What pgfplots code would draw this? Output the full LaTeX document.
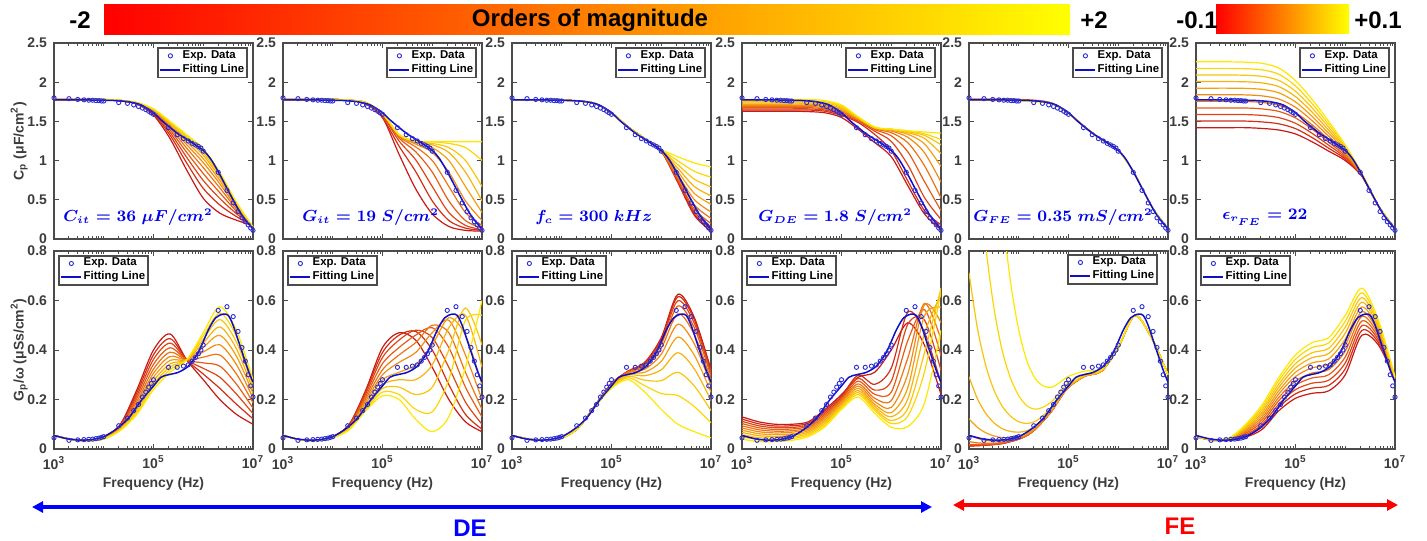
\documentclass[border=0pt]{standalone}
\usepackage{fontspec}
\setmainfont{Liberation Sans}
\usepackage{pgfplots}
\pgfplotsset{compat=1.18}
\usepackage{pgfplotstable}
\usetikzlibrary{arrows.meta}

\definecolor{k0}{RGB}{200,25,20}
\definecolor{k1}{RGB}{212,45,20}
\definecolor{k2}{RGB}{222,68,20}
\definecolor{k3}{RGB}{230,92,20}
\definecolor{k4}{RGB}{236,115,20}
\definecolor{k5}{RGB}{240,138,20}
\definecolor{k6}{RGB}{244,158,16}
\definecolor{k7}{RGB}{247,178,12}
\definecolor{k8}{RGB}{250,196,8}
\definecolor{k9}{RGB}{252,214,4}
\definecolor{k10}{RGB}{255,232,0}
\definecolor{axg}{RGB}{75,75,75}
\definecolor{lblg}{RGB}{60,60,60}
\definecolor{expb}{RGB}{45,45,215}
\definecolor{fitb}{RGB}{15,15,200}
\definecolor{txtb}{RGB}{0,0,235}

\pgfplotstableread{
e v
3 1.80
3.301 1.79
3.477 1.78
3.602 1.775
3.699 1.77
3.778 1.77
3.845 1.765
3.903 1.765
3.954 1.76
4 1.76
4.301 1.74
4.477 1.73
4.602 1.71
4.699 1.69
4.778 1.67
4.845 1.65
4.903 1.63
4.954 1.61
5 1.59
5.301 1.42
5.477 1.33
5.602 1.28
5.699 1.25
5.778 1.22
5.845 1.20
5.903 1.18
5.954 1.16
6 1.12
6.301 0.85
6.477 0.62
6.602 0.46
6.699 0.35
6.778 0.27
6.845 0.22
6.903 0.18
6.954 0.14
7 0.11
}\expC
\pgfplotstableread{
e v
3 0.045
3.301 0.035
3.477 0.037
3.602 0.038
3.699 0.039
3.778 0.04
3.845 0.042
3.903 0.044
3.954 0.047
4 0.05
4.301 0.094
4.477 0.125
4.602 0.155
4.699 0.18
4.778 0.21
4.845 0.23
4.903 0.25
4.954 0.265
5 0.28
5.301 0.33
5.477 0.33
5.602 0.335
5.699 0.34
5.778 0.355
5.845 0.37
5.903 0.385
5.954 0.40
6 0.42
6.301 0.56
6.477 0.575
6.602 0.535
6.699 0.475
6.778 0.41
6.845 0.355
6.903 0.30
6.954 0.255
7 0.21
}\expG
\pgfplotstableread{
e v
3 1.775
3.5 1.775
4 1.77
4.25 1.765
4.5 1.75
4.75 1.71
5 1.61
5.15 1.52
5.3 1.44
5.5 1.34
5.75 1.24
6 1.13
6.15 1.02
6.3 0.86
6.45 0.68
6.6 0.50
6.75 0.33
6.9 0.20
7 0.13
}\fitC
\pgfplotstableread{
e v
3 0.055
3.25 0.042
3.5 0.036
3.75 0.038
4 0.05
4.25 0.08
4.5 0.125
4.75 0.195
5 0.255
5.15 0.29
5.3 0.30
5.5 0.31
5.7 0.335
5.9 0.39
6.1 0.48
6.25 0.53
6.4 0.545
6.5 0.54
6.6 0.50
6.75 0.41
6.9 0.32
7 0.27
}\fitG

\pgfplotstableread{
e a0 a1 a2 a3 a4 a5 a6 a7 a8 a9 a10
3 1.78 1.78 1.78 1.78 1.78 1.78 1.78 1.78 1.78 1.78 1.78
3.333 1.78 1.78 1.78 1.78 1.78 1.78 1.78 1.78 1.78 1.78 1.78
3.667 1.78 1.78 1.78 1.78 1.78 1.78 1.78 1.78 1.78 1.78 1.78
4 1.775 1.776 1.777 1.778 1.778 1.779 1.779 1.779 1.78 1.78 1.78
4.333 1.76 1.762 1.764 1.765 1.766 1.767 1.768 1.769 1.769 1.77 1.77
4.667 1.72 1.724 1.727 1.73 1.732 1.734 1.736 1.737 1.738 1.739 1.74
5 1.58 1.596 1.609 1.62 1.63 1.638 1.644 1.65 1.654 1.657 1.66
5.333 1.28 1.324 1.359 1.39 1.416 1.438 1.456 1.471 1.482 1.491 1.50
5.667 0.88 0.97 1.042 1.105 1.159 1.204 1.24 1.272 1.294 1.312 1.33
6 0.52 0.646 0.747 0.835 0.911 0.974 1.024 1.068 1.10 1.125 1.15
6.333 0.33 0.434 0.517 0.59 0.652 0.704 0.746 0.782 0.808 0.829 0.85
6.667 0.24 0.286 0.323 0.355 0.383 0.406 0.424 0.44 0.452 0.461 0.47
7 0.17 0.166 0.163 0.16 0.158 0.156 0.154 0.153 0.152 0.151 0.15
}\PoneC
\pgfplotstableread{
e a0 a1 a2 a3 a4 a5 a6 a7 a8 a9 a10
3 .055 .055 .055 .055 .055 .055 .055 .055 .055 .055 .055
3.333 .04 .04 .04 .039 .039 .039 .039 .038 .038 .038 .038
3.667 .035 .035 .035 .034 .034 .034 .034 .033 .033 .033 .033
4 .05 .049 .048 .046 .045 .044 .043 .042 .041 .041 .04
4.333 .10 .097 .094 .091 .088 .085 .083 .081 .079 .077 .075
4.667 .24 .228 .216 .204 .192 .181 .171 .162 .154 .147 .14
5 .40 .381 .362 .342 .323 .306 .29 .275 .262 .251 .24
5.333 .465 .446 .428 .409 .391 .374 .358 .344 .332 .321 .31
5.667 .36 .36 .36 .36 .36 .36 .36 .36 .36 .36 .36
6 .28 .303 .326 .348 .371 .392 .411 .428 .443 .457 .47
6.333 .20 .245 .29 .335 .38 .421 .459 .493 .523 .549 .575
6.667 .14 .181 .222 .262 .303 .341 .375 .405 .432 .456 .48
7 .10 .122 .143 .165 .186 .206 .224 .24 .255 .267 .28
}\PoneG
\pgfplotstableread{
e a0 a1 a2 a3 a4 a5 a6 a7 a8 a9 a10
3 1.78 1.78 1.78 1.78 1.78 1.78 1.78 1.78 1.78 1.78 1.78
3.333 1.78 1.78 1.78 1.78 1.78 1.78 1.78 1.78 1.78 1.78 1.78
3.667 1.78 1.78 1.78 1.78 1.78 1.78 1.78 1.78 1.78 1.78 1.78
4 1.78 1.78 1.78 1.78 1.78 1.78 1.78 1.78 1.78 1.78 1.78
4.333 1.77 1.77 1.77 1.77 1.77 1.77 1.77 1.77 1.77 1.77 1.77
4.667 1.72 1.724 1.735 1.74 1.74 1.74 1.74 1.74 1.74 1.74 1.74
5 1.55 1.549 1.573 1.59 1.60 1.60 1.60 1.60 1.60 1.60 1.60
5.333 1.08 1.184 1.25 1.288 1.308 1.32 1.325 1.33 1.33 1.33 1.33
5.667 0.64 0.86 1.01 1.113 1.175 1.211 1.229 1.24 1.245 1.25 1.25
6 0.32 0.486 0.67 0.854 1.002 1.104 1.166 1.201 1.219 1.24 1.24
6.333 0.16 0.236 0.338 0.486 0.67 0.854 1.002 1.104 1.166 1.219 1.24
6.667 0.11 0.139 0.174 0.236 0.338 0.486 0.67 0.854 1.002 1.166 1.24
7 0.10 0.11 0.12 0.139 0.174 0.236 0.338 0.486 0.67 1.002 1.24
}\PtwoC
\pgfplotstableread{
e a0 a1 a2 a3 a4 a5 a6 a7 a8 a9 a10
3 .055 .055 .055 .055 .055 .055 .055 .055 .055 .055 .055
3.333 .038 .038 .038 .038 .038 .038 .038 .038 .038 .038 .038
3.667 .035 .035 .035 .034 .034 .034 .034 .034 .034 .034 .033
4 .05 .05 .05 .05 .05 .049 .048 .047 .046 .045 .045
4.333 .10 .10 .095 .093 .09 .088 .086 .084 .082 .08 .078
4.667 .24 .235 .225 .215 .205 .195 .185 .175 .165 .16 .155
5 .41 .39 .37 .345 .32 .30 .28 .26 .245 .23 .215
5.333 .47 .46 .44 .41 .38 .35 .31 .28 .25 .22 .20
5.667 .44 .475 .48 .46 .43 .39 .34 .28 .22 .16 .12
6 .33 .40 .45 .49 .50 .47 .42 .34 .25 .15 .07
6.333 .20 .26 .33 .41 .47 .52 .53 .49 .40 .28 .13
6.667 .11 .14 .19 .25 .31 .38 .46 .54 .57 .52 .33
7 .07 .08 .10 .13 .16 .20 .26 .33 .42 .54 .60
}\PtwoG
\pgfplotstableread{
e a0 a1 a2 a3 a4 a5 a6 a7 a8 a9 a10
3 1.775 1.775 1.775 1.775 1.775 1.775 1.775 1.775 1.775 1.775 1.775
3.333 1.775 1.775 1.775 1.775 1.775 1.775 1.775 1.775 1.775 1.775 1.775
3.667 1.775 1.775 1.775 1.775 1.775 1.775 1.775 1.775 1.775 1.775 1.775
4 1.77 1.77 1.77 1.77 1.77 1.77 1.77 1.77 1.77 1.77 1.77
4.333 1.76 1.76 1.76 1.76 1.76 1.76 1.76 1.76 1.76 1.76 1.76
4.667 1.73 1.73 1.73 1.73 1.73 1.73 1.73 1.73 1.73 1.73 1.73
5 1.61 1.61 1.61 1.61 1.61 1.61 1.61 1.61 1.61 1.61 1.61
5.333 1.43 1.43 1.43 1.43 1.43 1.43 1.43 1.43 1.43 1.43 1.43
5.667 1.28 1.28 1.28 1.28 1.28 1.28 1.28 1.28 1.28 1.28 1.28
6 1.12 1.121 1.121 1.122 1.124 1.126 1.128 1.131 1.134 1.137 1.14
6.333 0.72 0.73 0.743 0.76 0.786 0.819 0.859 0.902 0.948 0.997 1.05
6.667 0.30 0.32 0.347 0.38 0.434 0.501 0.581 0.669 0.762 0.863 0.97
7 0.10 0.125 0.157 0.198 0.264 0.346 0.444 0.551 0.666 0.789 0.92
}\PthreeC
\pgfplotstableread{
e a0 a1 a2 a3 a4 a5 a6 a7 a8 a9 a10
3 .055 .055 .055 .055 .055 .055 .055 .055 .055 .055 .055
3.333 .04 .04 .04 .04 .04 .04 .04 .04 .04 .04 .04
3.667 .035 .035 .035 .035 .035 .035 .035 .035 .035 .035 .035
4 .045 .045 .045 .045 .045 .045 .045 .045 .045 .045 .045
4.333 .085 .085 .085 .085 .085 .085 .085 .085 .085 .085 .085
4.667 .175 .175 .175 .175 .174 .174 .173 .173 .172 .171 .17
5 .265 .265 .264 .263 .262 .26 .258 .256 .253 .249 .245
5.333 .315 .314 .313 .312 .31 .307 .303 .299 .294 .288 .28
5.667 .35 .348 .344 .339 .332 .322 .31 .296 .278 .256 .23
6 .45 .444 .436 .424 .407 .383 .354 .32 .276 .224 .16
6.333 .625 .615 .599 .578 .546 .504 .452 .389 .31 .216 .10
6.667 .53 .521 .507 .489 .461 .424 .378 .323 .254 .171 .07
7 .32 .315 .306 .295 .279 .257 .229 .196 .155 .106 .045
}\PthreeG
\pgfplotstableread{
e a0 a1 a2 a3 a4 a5 a6 a7 a8 a9 a10
3 1.63 1.645 1.66 1.675 1.69 1.705 1.72 1.735 1.75 1.765 1.78
3.333 1.63 1.645 1.66 1.675 1.69 1.705 1.72 1.735 1.75 1.765 1.78
3.667 1.63 1.645 1.66 1.675 1.69 1.705 1.72 1.735 1.75 1.765 1.78
4 1.63 1.645 1.66 1.675 1.69 1.705 1.72 1.735 1.75 1.765 1.78
4.333 1.625 1.645 1.66 1.675 1.69 1.705 1.72 1.735 1.75 1.765 1.78
4.667 1.61 1.63 1.645 1.66 1.675 1.69 1.705 1.72 1.735 1.75 1.765
5 1.55 1.575 1.59 1.605 1.62 1.635 1.65 1.665 1.68 1.695 1.71
5.333 1.40 1.487 1.503 1.522 1.528 1.533 1.538 1.543 1.549 1.554 1.56
5.667 1.23 1.334 1.375 1.396 1.407 1.42 1.42 1.42 1.42 1.42 1.43
6 1.05 1.128 1.245 1.316 1.356 1.377 1.387 1.40 1.40 1.40 1.40
6.333 0.68 0.74 0.946 1.112 1.228 1.297 1.336 1.357 1.367 1.38 1.38
6.667 0.32 0.364 0.529 0.733 0.936 1.101 1.214 1.283 1.322 1.342 1.365
7 0.12 0.181 0.249 0.361 0.524 0.725 0.926 1.089 1.201 1.269 1.35
}\PfourC
\pgfplotstableread{
e a0 a1 a2 a3 a4 a5 a6 a7 a8 a9 a10
3 .13 .121 .112 .103 .094 .085 .076 .067 .058 .049 .04
3.333 .11 .102 .094 .086 .078 .07 .062 .054 .046 .038 .03
3.667 .10 .093 .086 .079 .072 .065 .058 .051 .044 .037 .03
4 .10 .094 .087 .081 .074 .068 .061 .055 .048 .042 .035
4.333 .11 .104 .098 .092 .086 .08 .074 .068 .062 .056 .05
4.667 .16 .153 .146 .139 .132 .125 .118 .111 .104 .097 .09
5 .22 .214 .208 .202 .196 .19 .184 .178 .172 .166 .16
5.333 .29 .298 .285 .274 .263 .254 .245 .236 .228 .22 .21
5.667 .31 .261 .238 .221 .205 .192 .181 .172 .163 .156 .145
6 .40 .327 .274 .23 .196 .168 .147 .13 .115 .103 .088
6.333 .51 .553 .504 .438 .368 .303 .248 .202 .164 .133 .091
6.667 .42 .472 .521 .563 .588 .583 .538 .467 .388 .311 .185
7 .22 .266 .318 .377 .441 .51 .573 .625 .651 .639 .48
}\PfourG
\pgfplotstableread{
e b3 b6 b10
3 1.785 1.775 1.765
3.333 1.785 1.775 1.765
3.667 1.785 1.775 1.765
4 1.78 1.77 1.76
4.333 1.77 1.76 1.75
4.667 1.735 1.73 1.72
5 1.61 1.605 1.60
5.333 1.43 1.425 1.42
5.667 1.27 1.27 1.265
6 1.13 1.13 1.125
6.333 0.83 0.83 0.825
6.667 0.42 0.42 0.42
7 0.13 0.13 0.13
}\PfiveC
\pgfplotstableread{
e a0 a1 a2 a3 a4 a5 a6 a7 a8 a9 a10
3 .012 .013 .015 .019 .03 .056 .122 .292 .712 1.76 4.41
3.167 .013 .014 .015 .018 .025 .043 .088 .204 .49 1.2 3.01
3.333 .015 .016 .016 .018 .023 .035 .066 .145 .34 .827 2.06
3.5 .018 .018 .019 .02 .024 .032 .053 .106 .239 .571 1.41
3.667 .022 .022 .023 .024 .026 .032 .046 .082 .173 .398 .968
3.833 .03 .03 .03 .031 .033 .037 .046 .071 .133 .287 .677
4 .04 .04 .04 .041 .042 .044 .051 .068 .11 .215 .48
4.167 .055 .055 .055 .055 .056 .058 .063 .074 .103 .174 .354
4.333 .08 .08 .08 .08 .081 .082 .085 .093 .112 .161 .284
4.5 .115 .115 .115 .115 .115 .116 .119 .124 .137 .17 .254
4.667 .155 .155 .155 .155 .155 .156 .157 .161 .17 .193 .25
4.833 .205 .205 .205 .205 .205 .206 .207 .209 .215 .231 .27
5 .25 .25 .25 .25 .25 .25 .251 .253 .257 .268 .294
5.333 .295 .295 .295 .295 .295 .295 .295 .296 .298 .303 .315
5.667 .315 .315 .315 .315 .315 .315 .315 .315 .317 .319 .325
6 .41 .41 .41 .41 .41 .41 .41 .41 .41 .412 .414
6.333 .54 .54 .54 .54 .54 .54 .54 .54 .54 .54 .54
6.667 .45 .45 .45 .45 .45 .45 .45 .45 .45 .45 .45
7 .30 .30 .30 .30 .30 .30 .30 .30 .30 .30 .30
}\PfiveG
\pgfplotstableread{
e a0 a1 a2 a3 a4 a5 a6 a7 a8 a9 a10
3 1.42 1.504 1.588 1.672 1.756 1.84 1.924 2.008 2.092 2.176 2.26
3.333 1.42 1.504 1.588 1.672 1.756 1.84 1.924 2.008 2.092 2.176 2.26
3.667 1.42 1.504 1.588 1.672 1.756 1.84 1.924 2.008 2.092 2.176 2.26
4 1.42 1.504 1.587 1.671 1.754 1.838 1.921 2.005 2.088 2.172 2.255
4.333 1.41 1.493 1.576 1.659 1.742 1.825 1.908 1.991 2.074 2.157 2.24
4.667 1.39 1.469 1.548 1.627 1.706 1.785 1.864 1.943 2.022 2.101 2.18
5 1.34 1.408 1.476 1.544 1.612 1.68 1.748 1.816 1.884 1.952 2.02
5.333 1.24 1.294 1.348 1.402 1.456 1.51 1.564 1.618 1.672 1.726 1.78
5.667 1.12 1.158 1.196 1.234 1.272 1.31 1.348 1.386 1.424 1.462 1.50
6 1.00 1.02 1.04 1.06 1.08 1.10 1.12 1.14 1.16 1.18 1.20
6.333 .80 .804 .808 .812 .816 .82 .824 .828 .832 .836 .84
6.667 .42 .42 .42 .42 .42 .42 .42 .42 .42 .42 .42
7 .13 .13 .13 .13 .13 .13 .13 .13 .13 .13 .13
}\PsixC
\pgfplotstableread{
e a0 a1 a2 a3 a4 a5 a6 a7 a8 a9 a10
3 .05 .05 .05 .05 .05 .05 .05 .05 .05 .05 .05
3.333 .035 .035 .036 .036 .036 .037 .037 .037 .037 .038 .038
3.667 .035 .036 .037 .038 .039 .04 .041 .042 .043 .044 .045
4 .048 .053 .058 .064 .069 .074 .079 .084 .09 .095 .10
4.333 .08 .09 .10 .11 .12 .13 .14 .15 .16 .17 .18
4.667 .155 .169 .182 .196 .209 .223 .236 .25 .263 .277 .29
5 .205 .223 .24 .258 .275 .293 .31 .328 .345 .363 .38
5.333 .225 .246 .266 .287 .307 .328 .348 .369 .389 .41 .43
5.667 .235 .257 .278 .30 .321 .343 .364 .386 .407 .429 .45
6 .30 .324 .348 .372 .396 .42 .444 .468 .492 .516 .54
6.333 .46 .479 .498 .517 .536 .555 .574 .593 .612 .631 .65
6.667 .42 .43 .44 .45 .46 .47 .48 .49 .50 .51 .52
7 .28 .281 .282 .283 .284 .285 .286 .287 .288 .289 .29
}\PsixG

\pgfplotsset{
  sw/.style={smooth, line width=0.6pt},
  fitline/.style={smooth, color=fitb, line width=0.75pt},
  fitleg/.style={color=fitb, line width=0.9pt},
  expmark/.style={only marks, mark=o, mark size=1.05pt, color=expb, mark options={line width=0.45pt}},
  base/.style={
    scale only axis, width=99.5pt, anchor=north west,
    xmin=3, xmax=7, xtick={3,5,7},
    minor xtick={3.301,3.477,3.602,3.699,3.778,3.845,3.903,3.954,4,4.301,4.477,4.602,4.699,4.778,4.845,4.903,4.954,5.301,5.477,5.602,5.699,5.778,5.845,5.903,5.954,6,6.301,6.477,6.602,6.699,6.778,6.845,6.903,6.954},
    tick align=inside, major tick length=2.5pt, minor tick length=1.4pt,
    axis line style={draw=axg, line width=1.1pt},
    tick style={draw=axg, line width=0.5pt},
    tick label style={font=\bfseries\fontsize{7}{8}\selectfont, text=lblg},
    label style={font=\bfseries\fontsize{7}{8}\selectfont, text=lblg},
    ylabel shift=-7pt,
    xlabel shift=-3pt,
    /pgf/number format/assume math mode=true,
    legend image code/.code={\draw[mark repeat=2,mark phase=2,##1] plot coordinates {(0pt,0pt) (5pt,0pt) (10pt,0pt)};},
    legend style={font=\bfseries\fontsize{5.7}{6.5}\selectfont, draw=axg, line width=0.9pt,
      inner xsep=0.8pt, inner ysep=0.4pt, fill=white, nodes={inner sep=0.7pt}},
    legend cell align=left,
  },
  toprow/.style={base, height=98pt, ymin=0, ymax=2.5, ytick={0,0.5,1,1.5,2,2.5}, xticklabels={},
    legend style={at={(0.975,0.978)}, anchor=north east}},
  botrow/.style={base, height=99pt, ymin=0, ymax=0.8, ytick={0,0.2,0.4,0.6,0.8},
    xticklabels={10\textsuperscript{3},10\textsuperscript{5},10\textsuperscript{7}},
    xlabel={Frequency (Hz)},
    legend style={at={(0.02,0.98)}, anchor=north west}},
}
\tikzset{plabel/.style={anchor=west, inner sep=0pt, text=txtb, font=\fontsize{7.8}{9}\selectfont\boldmath}}

\newcommand{\sweep}[1]{\pgfplotsinvokeforeach{0,...,10}{\addplot[sw,color=k##1,forget plot] table[x=e,y=a##1]{#1};}}
\newcommand{\fitexp}[2]{%
  \addplot[fitline, forget plot] table[x=e,y=v]{#1};
  \addplot[expmark, forget plot] table[x=e,y=v]{#2};
  \addlegendimage{expmark}\addlegendentry{Exp. Data}
  \addlegendimage{fitleg}\addlegendentry{Fitting Line}}

\begin{document}
\begin{tikzpicture}
\path[use as bounding box] (0pt,0pt) rectangle (713.5pt,-270pt);

\shade[left color=red, right color=yellow] (52pt,-2.5pt) rectangle (535pt,-17.5pt);
\node[font=\bfseries\fontsize{12}{14}\selectfont] at (295pt,-10pt) {Orders of magnitude};
\node[font=\bfseries\fontsize{12}{14}\selectfont] at (40pt,-10pt) {-2};
\node[font=\bfseries\fontsize{12}{14}\selectfont] at (547pt,-10pt) {+2};
\shade[left color=red, right color=yellow] (608pt,-2.5pt) rectangle (674.5pt,-17pt);
\node[font=\bfseries\fontsize{12}{14}\selectfont] at (598.5pt,-10pt) {-0.1};
\node[font=\bfseries\fontsize{12}{14}\selectfont] at (689pt,-10pt) {+0.1};

\begin{axis}[toprow, at={(27pt,-21.5pt)}, ylabel={C\textsubscript{p} (μF/cm\textsuperscript{2})}]
\sweep{\PoneC}
\fitexp{\fitC}{\expC}
\node[plabel] at (rel axis cs:0.045,0.11) {$C_{it} = 36\;\mu F/cm^{2}$};
\end{axis}
\begin{axis}[toprow, at={(141.5pt,-21.5pt)}]
\sweep{\PtwoC}
\fitexp{\fitC}{\expC}
\node[plabel] at (rel axis cs:0.095,0.11) {$G_{it} = 19\;S/cm^{2}$};
\end{axis}
\begin{axis}[toprow, at={(256pt,-21.5pt)}]
\sweep{\PthreeC}
\fitexp{\fitC}{\expC}
\node[plabel] at (rel axis cs:0.115,0.11) {$f_{c} = 300\;kHz$};
\end{axis}
\begin{axis}[toprow, at={(371pt,-21.5pt)}]
\sweep{\PfourC}
\fitexp{\fitC}{\expC}
\node[plabel] at (rel axis cs:0.08,0.11) {$G_{DE} = 1.8\;S/cm^{2}$};
\end{axis}
\begin{axis}[toprow, at={(484.5pt,-21.5pt)}]
\addplot[sw,color=k3,forget plot] table[x=e,y=b3]{\PfiveC};
\addplot[sw,color=k6,forget plot] table[x=e,y=b6]{\PfiveC};
\addplot[sw,color=k10,forget plot] table[x=e,y=b10]{\PfiveC};
\fitexp{\fitC}{\expC}
\node[plabel] at (rel axis cs:0.02,0.11) {$G_{FE} = 0.35\;mS/cm^{2}$};
\end{axis}
\begin{axis}[toprow, at={(598pt,-21.5pt)}]
\sweep{\PsixC}
\fitexp{\fitC}{\expC}
\node[plabel] at (rel axis cs:0.13,0.11) {$\epsilon_{r_{FE}} = 22$};
\end{axis}

\begin{axis}[botrow, at={(27pt,-125.5pt)}, ylabel={G\textsubscript{p}/ω (μSs/cm\textsuperscript{2})}]
\sweep{\PoneG}
\fitexp{\fitG}{\expG}
\end{axis}
\begin{axis}[botrow, at={(141.5pt,-125.5pt)}]
\sweep{\PtwoG}
\fitexp{\fitG}{\expG}
\end{axis}
\begin{axis}[botrow, at={(256pt,-125.5pt)}]
\sweep{\PthreeG}
\fitexp{\fitG}{\expG}
\end{axis}
\begin{axis}[botrow, at={(371pt,-125.5pt)}]
\sweep{\PfourG}
\fitexp{\fitG}{\expG}
\end{axis}
\begin{axis}[botrow, at={(484.5pt,-125.5pt)}, legend style={at={(0.95,0.985)}, anchor=north east}]
\sweep{\PfiveG}
\fitexp{\fitG}{\expG}
\end{axis}
\begin{axis}[botrow, at={(598pt,-125.5pt)}]
\sweep{\PsixG}
\fitexp{\fitG}{\expG}
\end{axis}

\draw[blue, line width=2pt, {Triangle[length=5.5pt,width=5.5pt]}-{Triangle[length=5.5pt,width=5.5pt]}] (16pt,-253.5pt) -- (466pt,-253.5pt);
\node[text=blue, font=\bfseries\fontsize{12}{14}\selectfont] at (235pt,-264pt) {DE};
\draw[red, line width=2pt, {Triangle[length=5.5pt,width=5.5pt]}-{Triangle[length=5.5pt,width=5.5pt]}] (476.5pt,-252.5pt) -- (699pt,-252.5pt);
\node[text=red, font=\bfseries\fontsize{12}{14}\selectfont] at (590pt,-263pt) {FE};
\end{tikzpicture}
\end{document}
